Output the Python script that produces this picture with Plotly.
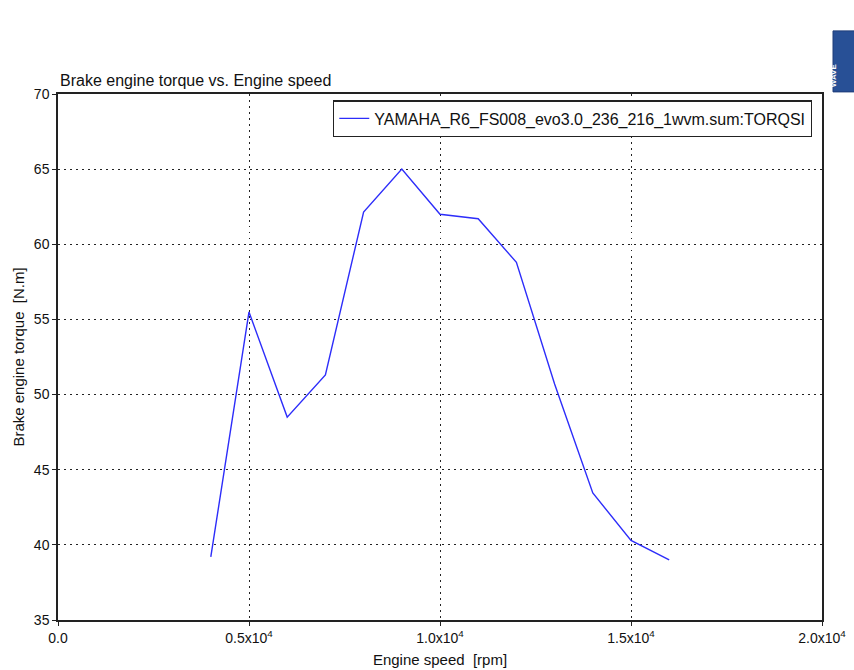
import plotly.graph_objects as go

# Data
engine_speed = [4000, 5000, 6000, 7000, 8000, 9000, 10000, 11000, 12000, 13000, 14000, 15000, 16000]
torque = [39.2, 55.5, 48.5, 51.3, 62.15, 65.0, 62.0, 61.7, 58.8, 50.7, 43.45, 40.3, 39.0]
series_name = "YAMAHA_R6_FS008_evo3.0_236_216_1wvm.sum:TORQSI"
x_tickvals = [0, 5000, 10000, 15000, 20000]
x_ticktext = ["0.0", "0.5x10<sup>4</sup>", "1.0x10<sup>4</sup>", "1.5x10<sup>4</sup>", "2.0x10<sup>4</sup>"]
y_tickvals = [35, 40, 45, 50, 55, 60, 65, 70]

FONT = "Liberation Sans, Arial, sans-serif"

fig = go.Figure()
fig.add_trace(go.Scatter(
    x=engine_speed, y=torque, mode="lines", name=series_name,
    line=dict(color="rgb(45,45,250)", width=1.4),
    showlegend=True,
))

axis_common = dict(
    showline=True, linecolor="#222", linewidth=1.5, mirror=True,
    ticks="outside", ticklen=4, tickcolor="#222", tickwidth=1,
    showgrid=True, gridcolor="#222", griddash="1.5px,4.5px", gridwidth=1.3,
    zeroline=False, tickfont=dict(family=FONT, size=14, color="#111"),
    automargin=False,
)

fig.update_layout(
    width=854, height=670,
    margin=dict(l=58, r=32, t=94, b=50),
    paper_bgcolor="white", plot_bgcolor="white",
    font=dict(family=FONT, size=14, color="#111"),
    showlegend=True,
    legend=dict(
        x=0.987, y=0.988, xanchor="right", yanchor="top",
        bordercolor="#222", borderwidth=1.2, bgcolor="white",
        font=dict(family=FONT, size=16, color="#111"),
        tracegroupgap=0, itemwidth=30,
    ),
    xaxis=dict(axis_common, range=[0, 20000], tickvals=x_tickvals, ticktext=x_ticktext,
               title=dict(text="Engine speed  [rpm]", font=dict(family=FONT, size=15), standoff=10)),
    yaxis=dict(axis_common, range=[35, 70], tickvals=y_tickvals,
               title=dict(text="Brake engine torque  [N.m]", font=dict(family=FONT, size=15), standoff=6)),
)

fig.add_annotation(
    text="Brake engine torque vs. Engine speed", xref="paper", yref="paper",
    x=0, y=1.0, xanchor="left", yanchor="bottom", yshift=3, showarrow=False,
    font=dict(family=FONT, size=16, color="#111"),
)

# WAVE logo
fig.add_shape(type="rect", xref="paper", yref="paper",
              x0=1.0144, x1=1.045, y0=1.004, y1=1.12,
              fillcolor="rgb(40,80,150)", line=dict(color="rgb(30,60,120)", width=1))
fig.add_annotation(text="<b>WAVE</b>", xref="paper", yref="paper",
                   x=1.024, y=1.062, textangle=-90, showarrow=False,
                   font=dict(family=FONT, size=8, color="white"))

fig.write_html("out.html")
